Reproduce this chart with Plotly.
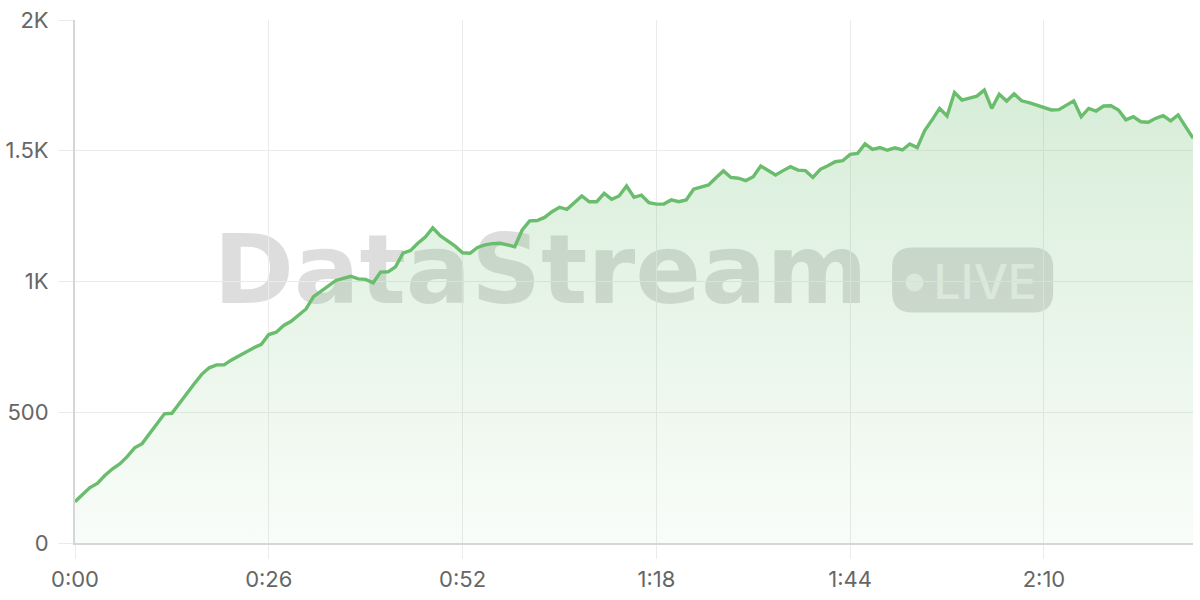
import plotly.graph_objects as go

# ---- data (one sample per second) ----
seconds = list(range(0, 151))
values = [158, 185, 212, 228, 258, 283, 302, 330, 364, 380,
          418, 460, 494, 496, 535, 572, 609, 645, 670, 681,
          681, 700, 716, 733, 747, 760, 797, 806, 832, 848,
          872, 895, 942, 963, 982, 1004, 1012, 1020, 1010, 1008,
          995, 1036, 1037, 1056, 1108, 1118, 1146, 1170, 1205, 1175,
          1155, 1135, 1110, 1108, 1130, 1140, 1145, 1146, 1140, 1133,
          1197, 1232, 1233, 1245, 1267, 1284, 1276, 1301, 1327, 1305,
          1305, 1337, 1314, 1327, 1365, 1322, 1330, 1301, 1296, 1296,
          1312, 1305, 1312, 1353, 1361, 1369, 1397, 1423, 1398, 1395,
          1386, 1401, 1442, 1424, 1407, 1424, 1439, 1426, 1424, 1398,
          1429, 1443, 1458, 1462, 1486, 1490, 1526, 1505, 1512, 1502,
          1511, 1503, 1526, 1512, 1577, 1618, 1662, 1633, 1723, 1694,
          1701, 1709, 1732, 1662, 1716, 1690, 1718, 1691, 1684, 1675,
          1668, 1656, 1657, 1675, 1691, 1630, 1662, 1652, 1671, 1672,
          1656, 1618, 1630, 1611, 1609, 1624, 1634, 1614, 1637, 1592,
          1548]

x_tickvals = [0, 26, 52, 78, 104, 130]
x_ticktext = ["0:00", "0:26", "0:52", "1:18", "1:44", "2:10"]
y_tickvals = [0, 500, 1000, 1500, 2000]
y_ticktext = ["0", "500", "1K", "1.5K", "2K"]

watermark_text = "DataStream"
badge_text = "LIVE"

LINE = "#6ABD6D"
GRID = "#ebebeb"
AXIS = "#d6d6d6"
TICKFONT = dict(family="Inter", size=22, color="#666666")

fig = go.Figure()
fig.add_trace(go.Scatter(
    x=seconds, y=values, mode="lines",
    line=dict(color=LINE, width=3.4),
    fill="tozeroy",
    fillgradient=dict(
        type="vertical",
        start=0, stop=max(values),
        colorscale=[[0, "rgba(102,187,106,0.04)"], [1, "rgba(102,187,106,0.26)"]],
    ),
    hoverinfo="skip",
    showlegend=False,
))

shapes = [
    # pill behind LIVE
    dict(type="path", layer="between", xref="paper", yref="paper",
         xsizemode="pixel", ysizemode="pixel", xanchor=0.8029, yanchor=0.5029,
         path=("M -60.5,-32.5 L 60.5,-32.5 Q 80.5,-32.5 80.5,-12.5 L 80.5,12.5 "
               "Q 80.5,32.5 60.5,32.5 L -60.5,32.5 Q -80.5,32.5 -80.5,12.5 "
               "L -80.5,-12.5 Q -80.5,-32.5 -60.5,-32.5 Z"),
         fillcolor="rgba(120,120,120,0.25)", line=dict(width=0)),
    # dot
    dict(type="circle", layer="between", xref="paper", yref="paper",
         xsizemode="pixel", ysizemode="pixel", xanchor=0.7509, yanchor=0.4981,
         x0=-9, x1=9, y0=-9, y1=9,
         fillcolor="rgba(255,255,255,0.6)", line=dict(width=0)),
    # DataStream text
    dict(type="rect", layer="between", xref="paper", yref="paper",
         x0=0.4064, x1=0.4264, y0=0.5264, y1=0.5464,
         fillcolor="rgba(0,0,0,0)", line=dict(width=0),
         label=dict(text=watermark_text, textposition="middle center",
                    font=dict(family="DejaVu Sans", size=97, weight=700,
                              color="rgba(120,120,120,0.25)"))),
    # LIVE text
    dict(type="rect", layer="between", xref="paper", yref="paper",
         x0=0.8040, x1=0.8240, y0=0.4919, y1=0.5119,
         fillcolor="rgba(0,0,0,0)", line=dict(width=0),
         label=dict(text=badge_text, textposition="middle center",
                    font=dict(family="Inter", size=48, weight=500,
                              color="rgba(255,255,255,0.6)"))),
]

fig.update_layout(
    width=1200, height=600,
    margin=dict(l=75, r=7, t=20, b=57),
    paper_bgcolor="white", plot_bgcolor="white",
    shapes=shapes,
    xaxis=dict(range=[0, 150], tickvals=x_tickvals, ticktext=x_ticktext,
               automargin=False,
               showgrid=True, gridcolor=GRID, gridwidth=1, zeroline=False,
               showline=True, linecolor=AXIS, linewidth=2,
               ticks="outside", ticklen=14, tickcolor=GRID, tickwidth=1,
               tickfont=TICKFONT, ticklabelstandoff=2),
    yaxis=dict(range=[0, 2000], tickvals=y_tickvals, ticktext=y_ticktext,
               automargin=False,
               showgrid=True, gridcolor=GRID, gridwidth=1, zeroline=False,
               showline=True, linecolor=AXIS, linewidth=2,
               ticks="outside", ticklen=15, tickcolor=GRID, tickwidth=1,
               tickfont=TICKFONT, ticklabelstandoff=5),
    hovermode=False,
)

fig.write_html("out.html",
               config={"displayModeBar": False},
               post_script="document.body.style.margin='0';")
